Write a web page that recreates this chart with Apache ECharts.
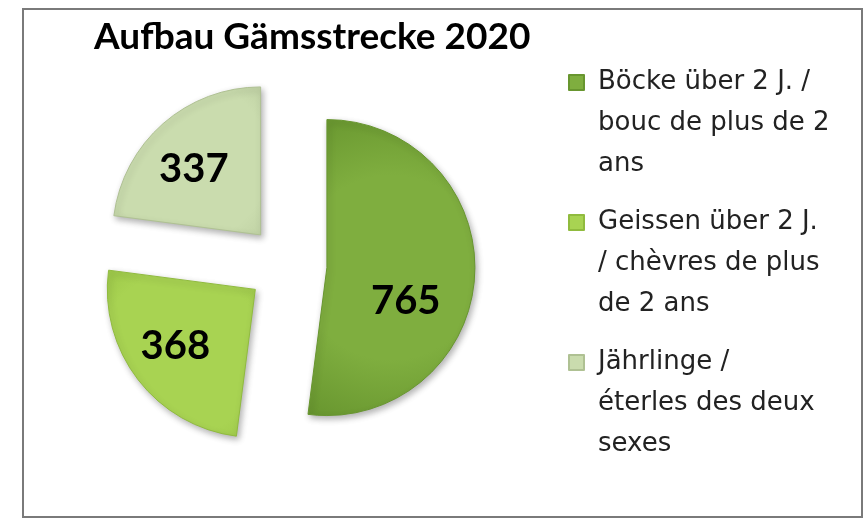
<!DOCTYPE html>
<html>
<head>
<meta charset="utf-8">
<script src="https://cdn.jsdelivr.net/npm/echarts@6/dist/echarts.min.js"></script>
<style>
  html, body { margin: 0; padding: 0; background: #fff; }
  #chart { width: 866px; height: 518px; }
</style>
</head>
<body>
<div id="chart"></div>
<script>
const titleText = 'Aufbau Gämsstrecke 2020'
const categories = [
  'Böcke über 2 J. / bouc de plus de 2 ans',
  'Geissen über 2 J. / chèvres de plus de 2 ans',
  'Jährlinge / éterles des deux sexes'
]
// legend text as wrapped in the picture
const legendLines = [
  ['Böcke über 2 J. /', 'bouc de plus de 2', 'ans'],
  ['Geissen über 2 J.', '/ chèvres de plus', 'de 2 ans'],
  ['Jährlinge /', 'éterles des deux', 'sexes']
]
const values = [765, 368, 337]
const colors = [
  ['#7fae3f', '#68962f'],
  ['#a8d352', '#90bb3e'],
  ['#cadcae', '#afc193']
]
// nudges of the value labels to where Excel put them
const labelShift = [[2, 29], [-19, 10], [-16, -8]]

const chart = echarts.init(document.getElementById('chart'))

const data = values.map((v, i) => ({
  name: categories[i],
  value: v,
  selected: true,
  itemStyle: {
    color: {
      type: 'radial', x: 0.5, y: 0.5, r: 1,
      colorStops: [
        { offset: 0, color: colors[i][0] },
        { offset: 0.55, color: colors[i][0] },
        { offset: 1, color: colors[i][1] }
      ]
    },
    borderColor: colors[i][1]
  }
}))

const option = {
  backgroundColor: '#fff',
  animation: false,
  title: {
    text: titleText,
    left: 94,
    top: 19,
    padding: 0,
    textStyle: {
      fontFamily: 'Lato',
      fontWeight: 'bold',
      fontSize: 37,
      color: '#000'
    }
  },
  legend: {
    orient: 'vertical',
    left: 568,
    top: -20,
    padding: 0,
    itemWidth: 15,
    itemHeight: 15,
    itemGap: -65,
    icon: 'rect',
    selectedMode: false,
    data: categories,
    // two empty lines in front keep the icon level with the first line
    formatter: function (name) {
      return '\n\n' + legendLines[categories.indexOf(name)].join('\n')
    },
    textStyle: {
      fontFamily: 'DejaVu Sans',
      fontSize: 26,
      lineHeight: 41,
      color: '#222',
      padding: [0, 0, 0, 9]
    }
  },
  graphic: [{
    type: 'rect',
    shape: { x: 23, y: 9, width: 839, height: 508 },
    style: { fill: 'none', stroke: '#7a7a7a', lineWidth: 2 },
    silent: true
  }],
  series: [{
    type: 'pie',
    center: [287, 265],
    radius: 148,
    startAngle: 90,
    clockwise: true,
    selectedMode: 'multiple',
    selectedOffset: 40,
    avoidLabelOverlap: false,
    emphasis: { disabled: true },
    itemStyle: {
      borderWidth: 1,
      shadowBlur: 6,
      shadowOffsetX: 2,
      shadowOffsetY: 3,
      shadowColor: 'rgba(0,0,0,0.3)'
    },
    label: {
      show: true,
      position: 'inside',
      formatter: '{c}',
      fontFamily: 'Lato',
      fontWeight: 'bold',
      fontSize: 40,
      color: '#000'
    },
    labelLine: { show: false },
    labelLayout: function (params) {
      const s = labelShift[params.dataIndex]
      return { dx: s[0], dy: s[1] }
    },
    data: data
  }]
}

chart.setOption(option)
</script>
</body>
</html>
